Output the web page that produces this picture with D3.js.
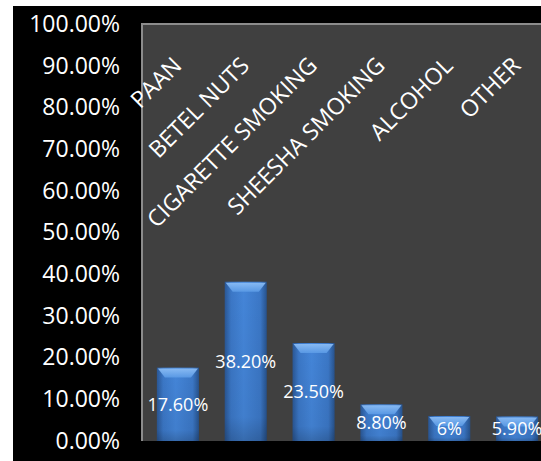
<!DOCTYPE html>
<html>
<head>
<meta charset="utf-8">
<script src="https://cdn.jsdelivr.net/npm/d3@7"></script>
<style>
  html, body { margin: 0; padding: 0; background: #fff; }
  svg { display: block; font-family: "Open Sans", "Noto Sans", sans-serif; }
</style>
</head>
<body>
<div id="chart"></div>
<script>
// Datos del gráfico
const categories = ["PAAN", "BETEL NUTS", "CIGARETTE SMOKING", "SHEESHA SMOKING", "ALCOHOL", "OTHER"];
const values = [0.176, 0.382, 0.235, 0.088, 0.06, 0.059];
const valueLabels = ["17.60%", "38.20%", "23.50%", "8.80%", "6%", "5.90%"];
const yTicks = [0, 0.1, 0.2, 0.3, 0.4, 0.5, 0.6, 0.7, 0.8, 0.9, 1.0];

const width = 541;
const height = 461;

const plot = { left: 142, top: 24, right: 551, bottom: 441 };

const svg = d3.select("#chart")
              .append("svg")
              .attr("width", width)
              .attr("height", height);

// Fondo negro del área del gráfico
svg.append("rect")
   .attr("x", 13).attr("y", 6)
   .attr("width", width - 13).attr("height", height - 6)
   .attr("fill", "#000");

// Área de trazado gris
svg.append("rect")
   .attr("x", plot.left).attr("y", plot.top)
   .attr("width", plot.right - plot.left).attr("height", plot.bottom - plot.top)
   .attr("fill", "#404040");

// Bordes izquierdo y superior
svg.append("path")
   .attr("d", `M${plot.left},${plot.bottom}V${plot.top}H${width}`)
   .attr("fill", "none")
   .attr("stroke", "#8c8c8c")
   .attr("stroke-width", 2);

const x = d3.scaleBand()
            .domain(categories)
            .range([plot.left + 2, plot.right])
            .paddingInner(0.38)
            .paddingOuter(0.19);

const y = d3.scaleLinear()
            .domain([0, 1])
            .range([plot.bottom, plot.top]);

// Eje Y
const yAxis = svg.append("g")
   .attr("transform", `translate(${plot.left - 22},0)`)
   .call(d3.axisLeft(y).tickValues(yTicks).tickFormat(d3.format(".2%")).tickSize(0).tickPadding(0));
yAxis.select(".domain").remove();
yAxis.selectAll("text")
     .attr("fill", "#fff")
     .attr("font-size", 23)
     .attr("font-family", "\"Open Sans\", sans-serif");

// Degradados para las barras
const defs = svg.append("defs");
const grad = defs.append("linearGradient").attr("id", "barGrad")
                 .attr("x1", "0").attr("x2", "1").attr("y1", "0").attr("y2", "0");
grad.append("stop").attr("offset", "0%").attr("stop-color", "#2a5795");
grad.append("stop").attr("offset", "15%").attr("stop-color", "#3b77c6");
grad.append("stop").attr("offset", "45%").attr("stop-color", "#4485d8");
grad.append("stop").attr("offset", "85%").attr("stop-color", "#3b77c6");
grad.append("stop").attr("offset", "100%").attr("stop-color", "#27528c");

const vgrad = defs.append("linearGradient").attr("id", "barShade")
                  .attr("x1", "0").attr("x2", "0").attr("y1", "0").attr("y2", "1");
vgrad.append("stop").attr("offset", "0%").attr("stop-color", "#000").attr("stop-opacity", 0);
vgrad.append("stop").attr("offset", "85%").attr("stop-color", "#000").attr("stop-opacity", 0.05);
vgrad.append("stop").attr("offset", "100%").attr("stop-color", "#000").attr("stop-opacity", 0.2);

const capGrad = defs.append("linearGradient").attr("id", "capGrad")
                    .attr("x1", "0").attr("x2", "0").attr("y1", "0").attr("y2", "1");
capGrad.append("stop").attr("offset", "0%").attr("stop-color", "#8fc0f7");
capGrad.append("stop").attr("offset", "100%").attr("stop-color", "#5b9be6");

const bars = svg.append("g")
   .selectAll("g")
   .data(categories)
   .enter()
   .append("g");

bars.append("rect")
    .attr("x", d => x(d))
    .attr("y", (d, i) => y(values[i]))
    .attr("width", x.bandwidth())
    .attr("height", (d, i) => plot.bottom - y(values[i]))
    .attr("fill", "url(#barGrad)");

bars.append("rect")
    .attr("x", d => x(d))
    .attr("y", (d, i) => y(values[i]))
    .attr("width", x.bandwidth())
    .attr("height", (d, i) => plot.bottom - y(values[i]))
    .attr("fill", "url(#barShade)");

// Bisel superior claro
bars.append("path")
    .attr("d", (d, i) => {
        const x0 = x(d), w = x.bandwidth(), t = y(values[i]);
        return `M${x0 + 1},${t + 1}H${x0 + w - 1}L${x0 + w - 8},${t + 10}H${x0 + 8}Z`;
    })
    .attr("fill", "url(#capGrad)")
    .attr("opacity", 0.9);

// Etiquetas de valores
svg.append("g")
   .selectAll("text")
   .data(categories)
   .enter()
   .append("text")
   .attr("x", d => x(d) + x.bandwidth() / 2)
   .attr("y", (d, i) => Math.min((y(values[i]) + plot.bottom) / 2, plot.bottom - 10))
   .attr("dy", "0.35em")
   .attr("text-anchor", "middle")
   .attr("fill", "#fff")
   .attr("font-size", 18)
   .text((d, i) => valueLabels[i]);

// Etiquetas de categorías rotadas
svg.append("g")
   .selectAll("text")
   .data(categories)
   .enter()
   .append("text")
   .attr("transform", d => `translate(${x(d) + x.bandwidth() / 2 + 5},67) rotate(-45)`)
   .attr("text-anchor", "end")
   .attr("fill", "#fff")
   .attr("font-size", 23)
   .text(d => d);
</script>
</body>
</html>
